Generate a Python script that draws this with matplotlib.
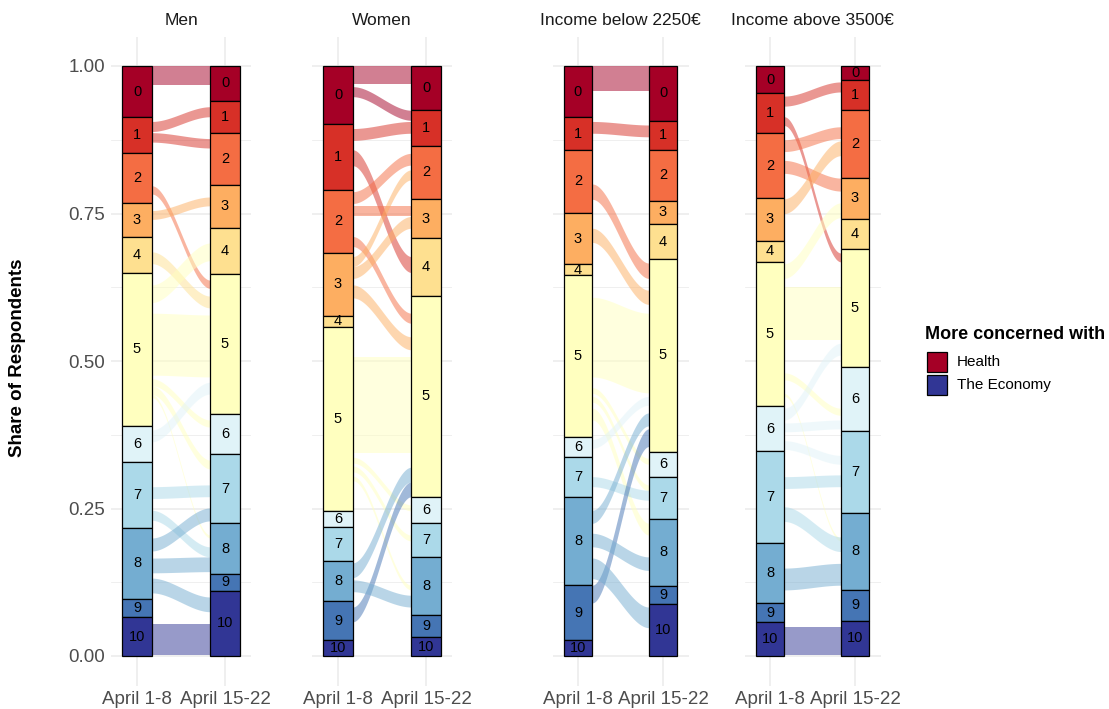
import numpy as np
import matplotlib
matplotlib.use('Agg')
import matplotlib.pyplot as plt
from matplotlib.patches import Rectangle

plt.rcParams['font.family'] = ['Liberation Sans', 'DejaVu Sans']

# ---------------- data ----------------
categories = list(range(11))
periods = ['April 1-8', 'April 15-22']
facet_titles = ['Men', 'Women', 'Income below 2250€', 'Income above 3500€']
palette = ['#a50026', '#d73027', '#f46d43', '#fdae61', '#fee090', '#ffffbf',
           '#e0f3f8', '#abd9e9', '#74add1', '#4575b4', '#313695']
legend_labels = ['Health', 'The Economy']

# share of respondents per category (0 .. 10), top to bottom
men_apr1 = [0.087, 0.061, 0.085, 0.057, 0.060, 0.260, 0.061, 0.112, 0.120, 0.031, 0.066]
men_apr15 = [0.059, 0.054, 0.088, 0.074, 0.078, 0.237, 0.068, 0.117, 0.086, 0.028, 0.111]
women_apr1 = [0.099, 0.111, 0.107, 0.106, 0.020, 0.312, 0.027, 0.057, 0.068, 0.066, 0.027]
women_apr15 = [0.075, 0.060, 0.090, 0.067, 0.097, 0.341, 0.044, 0.058, 0.099, 0.037, 0.032]
low_apr1 = [0.087, 0.055, 0.107, 0.087, 0.019, 0.273, 0.035, 0.067, 0.150, 0.093, 0.027]
low_apr15 = [0.093, 0.049, 0.086, 0.040, 0.059, 0.327, 0.042, 0.071, 0.115, 0.030, 0.088]
high_apr1 = [0.046, 0.068, 0.110, 0.072, 0.036, 0.245, 0.075, 0.157, 0.102, 0.032, 0.057]
high_apr15 = [0.023, 0.051, 0.115, 0.071, 0.050, 0.200, 0.109, 0.138, 0.131, 0.052, 0.060]

# flows: (from category, to category, share, share-level at April 1-8, share-level at April 15-22)
men_flows = [
    (0, 0, 0.032, 1.000, 1.000),
    (1, 1, 0.017, 0.906, 0.931),
    (1, 2, 0.016, 0.887, 0.877),
    (2, 5, 0.014, 0.797, 0.637),
    (3, 3, 0.015, 0.755, 0.778),
    (4, 5, 0.020, 0.685, 0.610),
    (5, 4, 0.030, 0.629, 0.700),
    (5, 5, 0.105, 0.581, 0.578),
    (5, 6, 0.012, 0.470, 0.400),
    (5, 7, 0.015, 0.458, 0.332),
    (5, 8, 0.005, 0.443, 0.205),
    (6, 5, 0.020, 0.383, 0.464),
    (7, 7, 0.020, 0.287, 0.290),
    (7, 8, 0.017, 0.247, 0.185),
    (8, 7, 0.022, 0.200, 0.251),
    (8, 8, 0.025, 0.166, 0.168),
    (8, 10, 0.025, 0.132, 0.100),
    (10, 10, 0.053, 0.054, 0.054),
]
women_flows = [
    (0, 0, 0.031, 1.000, 1.000),
    (0, 1, 0.017, 0.965, 0.925),
    (1, 1, 0.020, 0.894, 0.906),
    (1, 4, 0.027, 0.858, 0.677),
    (2, 2, 0.020, 0.787, 0.852),
    (2, 3, 0.017, 0.762, 0.762),
    (2, 5, 0.017, 0.711, 0.581),
    (3, 2, 0.017, 0.677, 0.824),
    (3, 3, 0.020, 0.660, 0.745),
    (3, 5, 0.022, 0.629, 0.541),
    (5, 5, 0.163, 0.507, 0.507),
    (5, 6, 0.010, 0.337, 0.256),
    (5, 7, 0.010, 0.322, 0.205),
    (5, 8, 0.008, 0.305, 0.120),
    (8, 5, 0.025, 0.158, 0.320),
    (9, 5, 0.025, 0.083, 0.295),
    (8, 8, 0.020, 0.129, 0.103),
]
low_flows = [
    (0, 0, 0.043, 1.000, 1.000),
    (1, 1, 0.020, 0.906, 0.900),
    (2, 5, 0.026, 0.800, 0.666),
    (3, 5, 0.024, 0.725, 0.620),
    (5, 5, 0.135, 0.608, 0.581),
    (5, 6, 0.010, 0.455, 0.335),
    (5, 7, 0.010, 0.440, 0.290),
    (5, 8, 0.020, 0.420, 0.225),
    (6, 5, 0.015, 0.367, 0.440),
    (7, 7, 0.017, 0.304, 0.281),
    (8, 5, 0.022, 0.247, 0.412),
    (9, 5, 0.030, 0.120, 0.385),
    (8, 8, 0.023, 0.208, 0.168),
    (8, 10, 0.035, 0.166, 0.083),
]
high_flows = [
    (1, 1, 0.017, 0.949, 0.973),
    (1, 5, 0.015, 0.914, 0.683),
    (2, 2, 0.020, 0.875, 0.897),
    (2, 3, 0.022, 0.840, 0.810),
    (3, 2, 0.025, 0.775, 0.873),
    (5, 3, 0.025, 0.665, 0.768),
    (5, 5, 0.090, 0.626, 0.626),
    (5, 6, 0.012, 0.480, 0.420),
    (5, 8, 0.005, 0.445, 0.200),
    (6, 5, 0.020, 0.420, 0.530),
    (6, 6, 0.015, 0.395, 0.400),
    (6, 7, 0.015, 0.365, 0.340),
    (7, 7, 0.020, 0.304, 0.307),
    (7, 8, 0.025, 0.253, 0.202),
    (8, 8, 0.037, 0.149, 0.157),
    (10, 10, 0.048, 0.049, 0.049),
]

facet_shares = [(men_apr1, men_apr15), (women_apr1, women_apr15),
                (low_apr1, low_apr15), (high_apr1, high_apr15)]
facet_flows = [men_flows, women_flows, low_flows, high_flows]

# ---------------- layout ----------------
W, H = 1109, 709
fig = plt.figure(figsize=(W / 100, H / 100), dpi=100)
panel_px = [(110.6, 140.8), (311.6, 140.8), (552.5, 136.0), (744.5, 136.0)]
top_px, bot_px = 36.5, 685.5

grid_col = '#ebebeb'
text_col = '#4d4d4d'
BAR_W = 1 / 3

t = np.linspace(0, 1, 120)
sstep = 3 * t ** 2 - 2 * t ** 3

for i, (title, (sh_l, sh_r), flows) in enumerate(zip(facet_titles, facet_shares, facet_flows)):
    left, width = panel_px[i]
    ax = fig.add_axes([left / W, (H - bot_px) / H, width / W, (bot_px - top_px) / H])
    ax.set_xlim(0.7, 2.3)
    ax.set_ylim(-0.05, 1.05)
    for sp in ax.spines.values():
        sp.set_visible(False)
    ax.set_yticks([0, 0.25, 0.5, 0.75, 1.0])
    ax.set_yticks([0.125, 0.375, 0.625, 0.875], minor=True)
    ax.set_xticks([1, 2])
    ax.set_xticklabels(periods, fontsize=13.5, color=text_col)
    if i == 0:
        ax.set_yticklabels(['0.00', '0.25', '0.50', '0.75', '1.00'], fontsize=13.5, color=text_col)
    else:
        ax.set_yticklabels([])
    ax.tick_params(axis='both', which='both', length=0, pad=4)
    ax.grid(True, which='major', color=grid_col, lw=1.1, zorder=0)
    ax.grid(True, which='minor', axis='y', color=grid_col, lw=0.55, zorder=0)
    ax.set_axisbelow(True)
    ax.set_title(title, fontsize=12.5, color='#1a1a1a', pad=8)

    # flows
    x0, x1 = 1 + BAR_W / 2, 2 - BAR_W / 2
    xs = x0 + (x1 - x0) * t
    for fr, to, size, yl, yr in flows:
        top = yl + (yr - yl) * sstep
        ax.fill_between(xs, top - size, top, color=palette[fr], alpha=0.5, lw=0, zorder=2)

    # strata
    for xi, shares in zip([1, 2], [sh_l, sh_r]):
        bottoms = 1 - np.cumsum(shares)
        ax.bar([xi] * len(shares), shares, bottom=bottoms, width=BAR_W,
               color=palette, edgecolor='black', linewidth=0.9, zorder=3)
        for k, (b, s) in enumerate(zip(bottoms, shares)):
            ax.text(xi, b + s / 2, str(categories[k]), ha='center', va='center',
                    fontsize=10.5, color='black', zorder=4)

# y axis title
fig.text(18 / W, 1 - 358 / H, 'Share of Respondents', rotation=90, ha='center', va='center',
         fontsize=13.5, fontweight='bold')

# legend
fig.text(925 / W, 1 - 335 / H, 'More concerned with', ha='left', va='center',
         fontsize=13, fontweight='bold')
for j, (lab, col, yc) in enumerate(zip(legend_labels, [palette[0], palette[-1]], [362, 385])):
    fig.patches.append(Rectangle((927 / W, (H - yc - 10) / H), 20 / W, 20 / H,
                                 transform=fig.transFigure, facecolor=col,
                                 edgecolor='black', linewidth=0.9))
    fig.text(957 / W, 1 - yc / H, lab, ha='left', va='center', fontsize=11)

fig.savefig('out.png', dpi=100)
